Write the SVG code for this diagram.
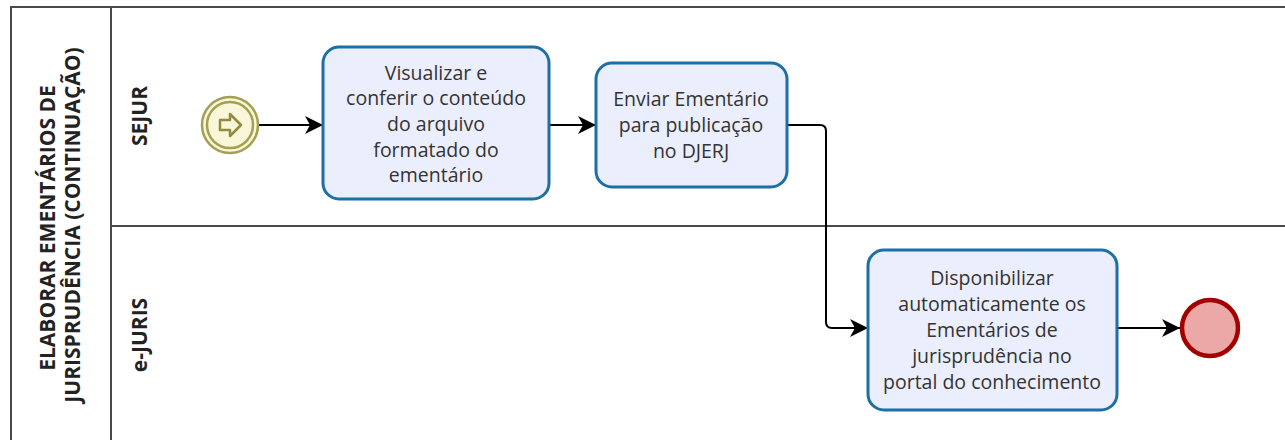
<svg xmlns="http://www.w3.org/2000/svg" width="1285" height="440" viewBox="0 0 1285 440">
<style>
.pool{fill:none;stroke:#4a4a4a;stroke-width:2}
.task{fill:#ebeefc;stroke:#1e6fa3;stroke-width:3}
.t{font-family:"Open Sans","Liberation Sans",sans-serif;font-size:19.5px;fill:#333;text-anchor:middle}
.h{font-family:"Open Sans","Liberation Sans",sans-serif;font-size:21px;font-weight:bold;fill:#222;text-anchor:middle}
.flow{fill:none;stroke:#000;stroke-width:2}
</style>
<defs>
<marker id="arr" viewBox="0 0 20 20" refX="19" refY="10" markerWidth="20" markerHeight="20" markerUnits="userSpaceOnUse" orient="auto">
<path d="M1,1 L19,10 L1,19 L6,10 Z" fill="#000"/>
</marker>
</defs>
<rect width="1285" height="440" fill="#fff"/>
<g id="pool">
<path class="pool" d="M11,445 L11,7 L1290,7"/>
<line class="pool" x1="111" y1="7" x2="111" y2="445"/>
<line class="pool" x1="111" y1="226" x2="1290" y2="226"/>
<text class="h" transform="translate(55,228) rotate(-90)">ELABORAR EMENTÁRIOS DE</text>
<text class="h" transform="translate(80,225) rotate(-90)">JURISPRUDÊNCIA (CONTINUAÇÃO)</text>
</g>
<g id="lane-sejur">
<text class="h" transform="translate(147,116) rotate(-90)">SEJUR</text>
</g>
<g id="lane-ejuris">
<text class="h" transform="translate(147,335) rotate(-90)">e-JURIS</text>
</g>
<g id="connectors">
<line class="flow" x1="259" y1="125" x2="323" y2="125" marker-end="url(#arr)"/>
<line class="flow" x1="549" y1="125" x2="596" y2="125" marker-end="url(#arr)"/>
<path class="flow" d="M787,125 L820,125 Q826,125 826,131 L826,322 Q826,328 832,328 L868,328" marker-end="url(#arr)"/>
<line class="flow" x1="1117" y1="328" x2="1180" y2="328" marker-end="url(#arr)"/>
</g>
<g id="start">
<circle cx="230" cy="125" r="28" fill="#faf6d9" stroke="#a3a051" stroke-width="2.5"/>
<circle cx="230" cy="125" r="23" fill="none" stroke="#a3a051" stroke-width="2.5"/>
<path d="M220,120 L230,120 L230,114 L241,125 L230,136 L230,130 L220,130 Z" fill="none" stroke="#8f8c3f" stroke-width="2.5" stroke-linejoin="round"/>
</g>
<g id="task1">
<rect class="task" x="323" y="47" width="226" height="152" rx="16"/>
<text class="t" x="436" y="80">Visualizar e</text>
<text class="t" x="436" y="105">conferir o conteúdo</text>
<text class="t" x="436" y="131">do arquivo</text>
<text class="t" x="436" y="157">formatado do</text>
<text class="t" x="436" y="182">ementário</text>
</g>
<g id="task2">
<rect class="task" x="596" y="63" width="191" height="124" rx="16"/>
<text class="t" x="691" y="106">Enviar Ementário</text>
<text class="t" x="691" y="132">para publicação</text>
<text class="t" x="691" y="158">no DJERJ</text>
</g>
<g id="task3">
<rect class="task" x="868" y="250" width="249" height="160" rx="16"/>
<text class="t" x="992" y="285">Disponibilizar</text>
<text class="t" x="992" y="311">automaticamente os</text>
<text class="t" x="992" y="337">Ementários de</text>
<text class="t" x="992" y="363">jurisprudência no</text>
<text class="t" x="992" y="389">portal do conhecimento</text>
</g>
<g id="end">
<circle cx="1210" cy="328" r="28" fill="#eca7a7" stroke="#a30000" stroke-width="4.5"/>
</g>
</svg>
